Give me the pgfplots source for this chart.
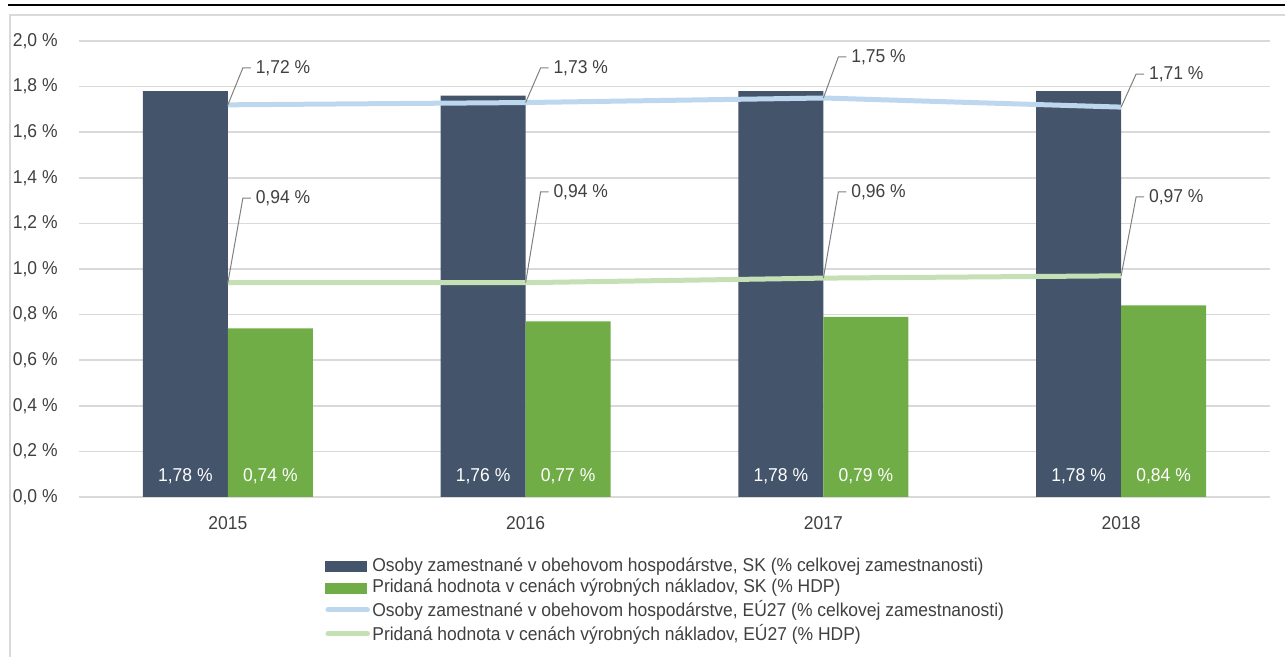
\documentclass[border=0pt]{standalone}
\usepackage{fontspec}
\setmainfont{Liberation Sans}[FakeStretch=0.94]
\usepackage{pgfplots}
\pgfplotsset{compat=1.18}
\definecolor{cDark}{HTML}{44546A}
\definecolor{cGreen}{HTML}{70AD47}
\definecolor{cLBlue}{HTML}{BDD7EE}
\definecolor{cLGreen}{HTML}{C5E0B4}
\definecolor{cGrid}{HTML}{D9D9D9}
\definecolor{cText}{HTML}{404040}
\definecolor{cLead}{HTML}{808080}
\begin{document}
\fontsize{9.3pt}{11pt}\selectfont
\begin{tikzpicture}
\useasboundingbox (0pt,0pt) rectangle (642.5pt,328.5pt);
\draw[line width=0.75pt,black] (4pt,326pt) -- (642.5pt,326pt);
\draw[line width=0.75pt,cGrid] (5pt,0pt) -- (5pt,321pt) -- (642.5pt,321pt);
\begin{axis}[
  at={(39.5pt,80pt)}, anchor=south west, scale only axis,
  width=595.5pt, height=228pt,
  xmin=-0.5, xmax=3.5, ymin=0, ymax=2,
  xtick={0,1,2,3}, xticklabels={2015,2016,2017,2018},
  ytick={0,0.2,0.4,0.6,0.8,1.0,1.2,1.4,1.6,1.8,2.0},
  yticklabels={{0,0 \%},{0,2 \%},{0,4 \%},{0,6 \%},{0,8 \%},{1,0 \%},{1,2 \%},{1,4 \%},{1,6 \%},{1,8 \%},{2,0 \%}},
  axis line style={draw=none}, major tick length=0pt,
  ymajorgrids, grid style={cGrid, line width=0.75pt},
  tick label style={text=cText},
  yticklabel style={anchor=east, xshift=-10.5pt, inner sep=0pt},
  xticklabel style={anchor=base, yshift=-16.4pt, inner sep=0pt},
  legend style={at={(0.2066,-0.1316)}, anchor=north west, draw=none, fill=none,
    inner sep=0pt, row sep=2.5pt, column sep=1.2pt, text=cText,
    nodes={inner sep=0pt}},
  legend cell align=left,
  clip=false,
]
\addplot[ybar, bar width=42.5pt, bar shift=-21.25pt, fill=cDark, draw=none,
  legend image code/.code={\fill[cDark] (0pt,-3.2pt) rectangle (21pt,2.3pt);}]
  coordinates {(0,1.78) (1,1.76) (2,1.78) (3,1.78)};
\addlegendentry{Osoby zamestnané v obehovom hospodárstve, SK (\% celkovej zamestnanosti)}
\addplot[ybar, bar width=42.5pt, bar shift=21.25pt, fill=cGreen, draw=none,
  legend image code/.code={\fill[cGreen] (0pt,-3.2pt) rectangle (21pt,2.3pt);}]
  coordinates {(0,0.74) (1,0.77) (2,0.79) (3,0.84)};
\addlegendentry{Pridaná hodnota v cenách výrobných nákladov, SK (\% HDP)}
\addplot[cLBlue, line width=2.5pt,
  legend image code/.code={\draw[cLBlue, line width=2.5pt, line cap=round] (1.25pt,0pt) -- (21pt,0pt);}]
  coordinates {(0,1.72) (1,1.73) (2,1.75) (3,1.71)};
\addlegendentry{Osoby zamestnané v obehovom hospodárstve, EÚ27 (\% celkovej zamestnanosti)}
\addplot[cLGreen, line width=2.5pt,
  legend image code/.code={\draw[cLGreen, line width=2.5pt, line cap=round] (1.25pt,0pt) -- (21pt,0pt);}]
  coordinates {(0,0.94) (1,0.94) (2,0.96) (3,0.97)};
\addlegendentry{Pridaná hodnota v cenách výrobných nákladov, EÚ27 (\% HDP)}
% bar value labels
\node[text=white] at ([xshift=-21.25pt,yshift=10.5pt]axis cs:0,0) {1,78 \%};
\node[text=white] at ([xshift=21.25pt,yshift=10.5pt]axis cs:0,0) {0,74 \%};
\node[text=white] at ([xshift=-21.25pt,yshift=10.5pt]axis cs:1,0) {1,76 \%};
\node[text=white] at ([xshift=21.25pt,yshift=10.5pt]axis cs:1,0) {0,77 \%};
\node[text=white] at ([xshift=-21.25pt,yshift=10.5pt]axis cs:2,0) {1,78 \%};
\node[text=white] at ([xshift=21.25pt,yshift=10.5pt]axis cs:2,0) {0,79 \%};
\node[text=white] at ([xshift=-21.25pt,yshift=10.5pt]axis cs:3,0) {1,78 \%};
\node[text=white] at ([xshift=21.25pt,yshift=10.5pt]axis cs:3,0) {0,84 \%};
% line labels with leaders
\draw[cLead, line width=0.5pt] (axis cs:0,1.72) -- ([xshift=7.5pt]axis cs:0,1.882) -- ++(4pt,0pt) node[anchor=west, text=cText, inner sep=2.2pt] {1,72 \%};
\draw[cLead, line width=0.5pt] (axis cs:0,0.94) -- ([xshift=7.5pt]axis cs:0,1.311) -- ++(4pt,0pt) node[anchor=west, text=cText, inner sep=2.2pt] {0,94 \%};
\draw[cLead, line width=0.5pt] (axis cs:1,1.73) -- ([xshift=7.5pt]axis cs:1,1.882) -- ++(4pt,0pt) node[anchor=west, text=cText, inner sep=2.2pt] {1,73 \%};
\draw[cLead, line width=0.5pt] (axis cs:1,0.94) -- ([xshift=7.5pt]axis cs:1,1.338) -- ++(4pt,0pt) node[anchor=west, text=cText, inner sep=2.2pt] {0,94 \%};
\draw[cLead, line width=0.5pt] (axis cs:2,1.75) -- ([xshift=7.5pt]axis cs:2,1.930) -- ++(4pt,0pt) node[anchor=west, text=cText, inner sep=2.2pt] {1,75 \%};
\draw[cLead, line width=0.5pt] (axis cs:2,0.96) -- ([xshift=7.5pt]axis cs:2,1.338) -- ++(4pt,0pt) node[anchor=west, text=cText, inner sep=2.2pt] {0,96 \%};
\draw[cLead, line width=0.5pt] (axis cs:3,1.71) -- ([xshift=7.5pt]axis cs:3,1.855) -- ++(4pt,0pt) node[anchor=west, text=cText, inner sep=2.2pt] {1,71 \%};
\draw[cLead, line width=0.5pt] (axis cs:3,0.97) -- ([xshift=7.5pt]axis cs:3,1.316) -- ++(4pt,0pt) node[anchor=west, text=cText, inner sep=2.2pt] {0,97 \%};
\end{axis}
\end{tikzpicture}
\end{document}
